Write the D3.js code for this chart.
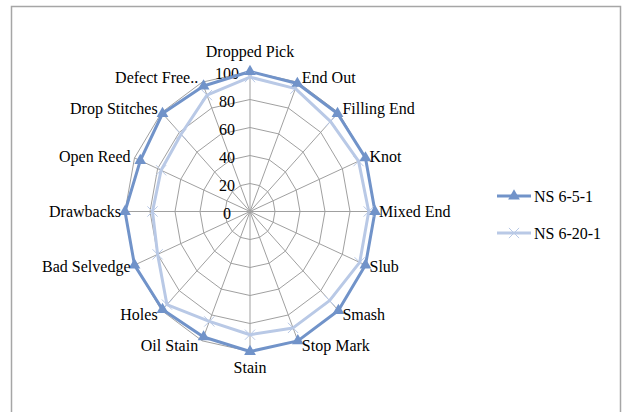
<!DOCTYPE html>
<html>
<head>
<meta charset="utf-8">
<script src="https://cdn.jsdelivr.net/npm/d3@7/dist/d3.min.js"></script>
<style>
  html, body { margin: 0; padding: 0; background: #fff; }
  svg { display: block; }
  text { font-family: "Liberation Serif", "DejaVu Serif", serif; fill: #000; }
</style>
</head>
<body>
<svg id="chart" width="623" height="412"></svg>
<script>
// Defect categories, clockwise from the top
const categories = [
  "Dropped Pick", "End Out", "Filling End", "Knot", "Mixed End", "Slub",
  "Smash", "Stop Mark", "Stain", "Oil Stain", "Holes", "Bad Selvedge",
  "Drawbacks", "Open Reed", "Drop Stitches", "Defect Free.."
];
// Series values (%)
const ns651  = [100, 99, 99, 100, 100, 100, 100, 100, 100, 97, 99, 100, 100, 95, 99, 97];
const ns6201 = [96, 95, 91, 94, 95, 95, 90, 90, 88, 85, 94, 80, 78, 77, 78, 90];
const seriesNames = ["NS 6-5-1", "NS 6-20-1"];
const tickValues = [0, 20, 40, 60, 80, 100];

const colors = ["#7193c9", "#b9c9e6"];

const svg = d3.select("#chart");

// Outer frame
svg.append("rect")
  .attr("x", 11.5).attr("y", 6.5)
  .attr("width", 609).attr("height", 430)
  .attr("fill", "none").attr("stroke", "#a6a6a6").attr("stroke-width", 1.5);

const cx = 250, cy = 211.5;
const rX = d3.scaleLinear().domain([0, 100]).range([0, 125]);
const rY = d3.scaleLinear().domain([0, 100]).range([0, 140]);
const angle = d3.scalePoint().domain(d3.range(categories.length + 1)).range([0, 2 * Math.PI]);

const px = (i, v) => cx + rX(v) * Math.sin(angle(i));
const py = (i, v) => cy - rY(v) * Math.cos(angle(i));

const g = svg.append("g");

// Grid rings
const ring = d3.line().curve(d3.curveLinearClosed);
tickValues.filter(t => t > 0).forEach(t => {
  g.append("path")
    .attr("d", ring(categories.map((c, i) => [px(i, t), py(i, t)])))
    .attr("fill", "none").attr("stroke", "#a0a0a0").attr("stroke-width", 1);
});

// Spokes
g.selectAll("line.spoke").data(categories).join("line")
  .attr("class", "spoke")
  .attr("x1", cx).attr("y1", cy)
  .attr("x2", (d, i) => px(i, 100)).attr("y2", (d, i) => py(i, 100))
  .attr("stroke", "#a0a0a0").attr("stroke-width", 1);

// Tick labels along the top spoke
g.selectAll("text.tick").data(tickValues).join("text")
  .attr("class", "tick")
  .attr("x", 227)
  .attr("y", d => cy - rY(d) + 2)
  .attr("text-anchor", "middle")
  .attr("dominant-baseline", "central")
  .attr("font-size", 16)
  .text(d => d);

// Series
const seriesData = [ns6201, ns651];
const seriesColors = [colors[1], colors[0]];
seriesData.forEach((vals, s) => {
  g.append("path")
    .attr("d", ring(vals.map((v, i) => [px(i, v), py(i, v)])))
    .attr("fill", "none")
    .attr("stroke", seriesColors[s])
    .attr("stroke-width", 3)
    .attr("stroke-linejoin", "round");
});

// Markers
const tri = d3.symbol().type(d3.symbolTriangle).size(60);
const cross = d3.symbol().type(d3.symbolX).size(70);
g.selectAll("path.mk2").data(ns6201).join("path")
  .attr("class", "mk2")
  .attr("d", cross)
  .attr("transform", (v, i) => `translate(${px(i, v)},${py(i, v)})`)
  .attr("fill", "none").attr("stroke", colors[1]).attr("stroke-width", 1);
g.selectAll("path.mk1").data(ns651).join("path")
  .attr("class", "mk1")
  .attr("d", tri)
  .attr("transform", (v, i) => `translate(${px(i, v)},${py(i, v)})`)
  .attr("fill", colors[0]);

// Category labels
g.selectAll("text.cat").data(categories).join("text")
  .attr("class", "cat")
  .attr("font-size", 16)
  .attr("dominant-baseline", "central")
  .each(function(d, i) {
    const a = angle(i), s = Math.sin(a), c = Math.cos(a);
    let x = px(i, 100), y = py(i, 100), anchor = "middle";
    if (Math.abs(s) < 0.01) {
      y += c > 0 ? -20 : 16;
    } else {
      anchor = s > 0 ? "start" : "end";
      x += s > 0 ? 4 : -4;
      y += -5 * c;
    }
    d3.select(this).attr("x", x).attr("y", y).attr("text-anchor", anchor).text(d);
  });

// Legend
const legend = svg.append("g");
const legendRows = [
  { name: seriesNames[0], color: colors[0], sym: tri, fill: colors[0], stroke: "none", y: 196 },
  { name: seriesNames[1], color: colors[1], sym: cross, fill: "none", stroke: colors[1], y: 233 }
];
legendRows.forEach(r => {
  legend.append("line")
    .attr("x1", 497).attr("x2", 531).attr("y1", r.y).attr("y2", r.y)
    .attr("stroke", r.color).attr("stroke-width", 3);
  legend.append("path")
    .attr("d", r.sym)
    .attr("transform", `translate(514,${r.y})`)
    .attr("fill", r.fill).attr("stroke", r.stroke).attr("stroke-width", 1);
  legend.append("text")
    .attr("x", 534).attr("y", r.y)
    .attr("dominant-baseline", "central")
    .attr("font-size", 16)
    .text(r.name);
});
</script>
</body>
</html>
